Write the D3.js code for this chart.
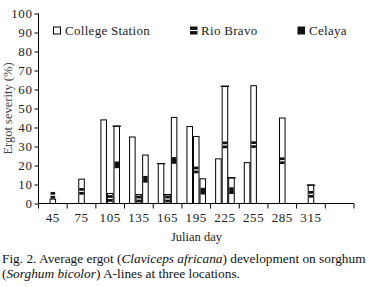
<!DOCTYPE html>
<html>
<head>
<meta charset="utf-8">
<script src="https://cdn.jsdelivr.net/npm/d3@7"></script>
<style>
  body { margin: 0; background: #fff; }
  svg { display: block; font-family: "Liberation Serif", "Times New Roman", serif; }
</style>
</head>
<body>
<svg id="chart" width="368" height="287"></svg>
<script>
// ---- data ----
const days = [45, 75, 105, 135, 165, 195, 225, 255, 285, 315, 345];
const dayLabels = ["45", "75", "105", "135", "165", "195", "225", "255", "285", "315", ""];
const seriesNames = ["College Station", "Rio Bravo", "Celaya"];
const collegeStation = [null, null, 44, 35, 21, 40.5, 23.5, 21.5, null, null, null];
const rioBravo = [2.3, 12.8, 5.3, 4.7, 4.7, 35.3, 61.7, 62, 45, 9.7, null];
const celaya = [null, null, 40.7, 25.5, 45.3, 13, 13.5, null, null, null, null];
const capCollegeStation = [false, false, false, false, true, false, false, false, false, false, false];
const capRioBravo = [false, false, false, false, true, false, true, false, false, true, false];
const capCelaya = [false, false, true, false, false, false, true, false, false, false, false];
const yTicks = [0, 10, 20, 30, 40, 50, 60, 70, 80, 90, 100];

const seriesValues = [collegeStation, rioBravo, celaya];
const seriesCaps = [capCollegeStation, capRioBravo, capCelaya];

(function () {
const svg = d3.select("#chart");
const pL = 38.5, pR = 354, pT = 13.5, pB = 203.5;

const x = d3.scaleBand().domain(days).range([pL, pR]).padding(0);
const xs = d3.scaleBand().domain(d3.range(3)).range([x.bandwidth() / 2 - 9.8, x.bandwidth() / 2 + 9.8]).padding(0);
const y = d3.scaleLinear().domain([0, 100]).range([pB, pT]);

// ---- y axis ----
const yAxis = svg.append("g")
  .attr("transform", `translate(${pL},0)`)
  .call(d3.axisLeft(y).tickValues(yTicks).tickSize(4).tickPadding(2));
yAxis.select(".domain").attr("stroke", "#000").attr("d", `M0,${pT}V${pB}`);
yAxis.selectAll(".tick line").attr("stroke", "#000");
yAxis.selectAll("text").attr("font-size", 13).attr("font-family", "Liberation Serif").attr("fill", "#222").style("letter-spacing", "0.6px");

// ---- x axis ----
const xAxis = svg.append("g")
  .attr("transform", `translate(0,${pB})`)
  .call(d3.axisBottom(x).tickFormat((d, i) => dayLabels[i]).tickSize(0).tickPadding(9));
xAxis.select(".domain").attr("stroke", "#000").attr("d", `M${pL},0H${pR}`);
xAxis.selectAll("text").attr("font-size", 13).attr("font-family", "Liberation Serif").attr("fill", "#222").style("letter-spacing", "0.6px");
xAxis.selectAll(".xb").data(days).enter().append("line")
  .attr("x1", d => x(d) + x.bandwidth()).attr("x2", d => x(d) + x.bandwidth())
  .attr("y1", 0).attr("y2", 5).attr("stroke", "#000");
xAxis.append("line").attr("x1", pL).attr("x2", pL).attr("y1", 0).attr("y2", 5).attr("stroke", "#000");

// ---- bars ----
const barW = xs.bandwidth();
const markH = 6.7;
const gBars = svg.append("g");
seriesValues.forEach((vals, si) => {
  const items = days.map((d, i) => ({ d, v: vals[i], cap: seriesCaps[si][i] })).filter(o => o.v != null);
  const g = gBars.append("g");
  g.selectAll("rect.bar").data(items).enter().append("rect")
    .attr("class", "bar")
    .attr("x", o => x(o.d) + xs(si) + 0.5)
    .attr("y", o => y(o.v))
    .attr("width", barW - 1)
    .attr("height", o => y(0) - y(o.v))
    .attr("fill", "#fff").attr("stroke", "#000").attr("stroke-width", 1);
  g.selectAll("line.cap").data(items.filter(o => o.cap)).enter().append("line")
    .attr("class", "cap")
    .attr("x1", o => x(o.d) + xs(si) - 1).attr("x2", o => x(o.d) + xs(si) + barW + 1)
    .attr("y1", o => y(o.v)).attr("y2", o => y(o.v))
    .attr("stroke", "#000").attr("stroke-width", 1.2);
  if (si > 0) {
    const my = o => {
      const h = y(0) - y(o.v);
      return h < markH + 1 ? y(o.v) - markH - 0.5 : y(o.v / 2) - markH / 2;
    };
    g.selectAll("rect.mark").data(items).enter().append("rect")
      .attr("class", "mark")
      .attr("x", o => x(o.d) + xs(si) + 1)
      .attr("y", my)
      .attr("width", barW - 2)
      .attr("height", markH)
      .attr("fill", "#111");
    if (si === 1) {
      g.selectAll("line.stripe").data(items).enter().append("line")
        .attr("class", "stripe")
        .attr("x1", o => x(o.d) + xs(si) + 1).attr("x2", o => x(o.d) + xs(si) + barW - 1)
        .attr("y1", o => my(o) + markH / 2).attr("y2", o => my(o) + markH / 2)
        .attr("stroke", "#fff").attr("stroke-width", 1.2);
    }
  }
});

// ---- legend ----
const legendPos = [[53.5, 65], [190, 201], [297.5, 309]];
const lg = svg.append("g");
seriesNames.forEach((name, i) => {
  const [mx, tx] = legendPos[i];
  if (i === 0) {
    lg.append("rect").attr("x", mx).attr("y", 27).attr("width", 7).attr("height", 7)
      .attr("fill", "#fff").attr("stroke", "#000");
  } else {
    lg.append("rect").attr("x", mx).attr("y", 26.5).attr("width", 7.5).attr("height", 8).attr("fill", "#111");
    if (i === 1) lg.append("line").attr("x1", mx).attr("x2", mx + 7.5).attr("y1", 30.5).attr("y2", 30.5)
      .attr("stroke", "#fff").attr("stroke-width", 1.2);
  }
  lg.append("text").attr("x", tx).attr("y", 34.5).attr("font-size", 13).attr("fill", "#222")
    .style("letter-spacing", "0.3px").text(name);
});

// ---- axis titles ----
svg.append("text").attr("transform", `translate(11.5,${(pT + pB) / 2}) rotate(-90)`)
  .attr("text-anchor", "middle").attr("font-size", 12.5).attr("fill", "#444").text("Ergot severity (%)");
svg.append("text").attr("x", 196.5).attr("y", 241).attr("text-anchor", "middle")
  .attr("font-size", 12.5).attr("fill", "#222").text("Julian day");

// ---- caption ----
const cap1 = svg.append("text").attr("x", 2).attr("y", 263).attr("font-size", 14).attr("fill", "#111");
cap1.append("tspan").text("Fig. 2. Average ergot (");
cap1.append("tspan").attr("font-style", "italic").text("Claviceps africana");
cap1.append("tspan").text(") development on sorghum");
const cap2 = svg.append("text").attr("x", 2).attr("y", 278).attr("font-size", 14).attr("fill", "#111");
cap2.append("tspan").text("(");
cap2.append("tspan").attr("font-style", "italic").text("Sorghum bicolor");
cap2.append("tspan").text(") A-lines at three locations.");
const w1 = cap1.node().getComputedTextLength();
const sc = 364 / w1;
cap1.attr("font-size", 14 * sc);
cap2.attr("font-size", 14 * sc);
})();
</script>
</body>
</html>
